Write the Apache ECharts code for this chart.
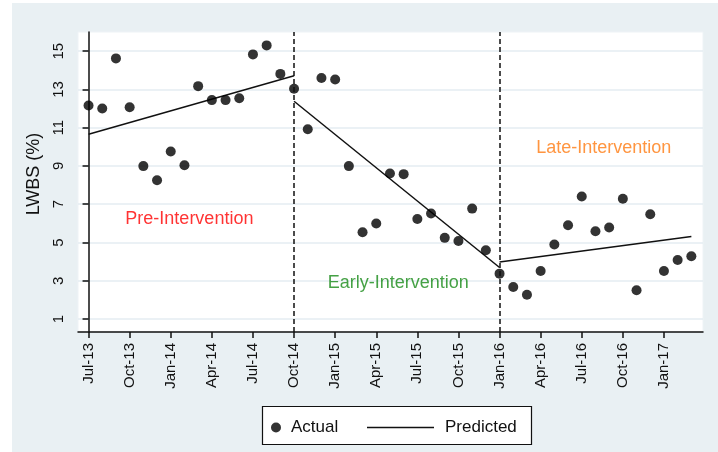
<!DOCTYPE html>
<html>
<head>
<meta charset="utf-8">
<script src="https://cdn.jsdelivr.net/npm/echarts@6/dist/echarts.min.js"></script>
<style>html,body{margin:0;padding:0;background:#fff}#c{width:718px;height:452px}</style>
</head>
<body>
<div id="c"></div>
<script>
const months = ['Jul-13','Aug-13','Sep-13','Oct-13','Nov-13','Dec-13','Jan-14','Feb-14','Mar-14','Apr-14','May-14','Jun-14','Jul-14','Aug-14','Sep-14','Oct-14','Nov-14','Dec-14','Jan-15','Feb-15','Mar-15','Apr-15','May-15','Jun-15','Jul-15','Aug-15','Sep-15','Oct-15','Nov-15','Dec-15','Jan-16','Feb-16','Mar-16','Apr-16','May-16','Jun-16','Jul-16','Aug-16','Sep-16','Oct-16','Nov-16','Dec-16','Jan-17','Feb-17','Mar-17'];
const actual = [12.16,12.0,14.62,12.07,8.99,8.25,9.75,9.04,13.17,12.44,12.44,12.54,14.83,15.3,13.81,13.03,10.92,13.6,13.52,8.99,5.53,5.99,8.6,8.57,6.23,6.51,5.24,5.08,6.77,4.59,3.37,2.67,2.27,3.51,4.89,5.9,7.4,5.59,5.78,7.28,2.5,6.47,3.51,4.08,4.28];
const xTickLabels = ['Jul-13','Oct-13','Jan-14','Apr-14','Jul-14','Oct-14','Jan-15','Apr-15','Jul-15','Oct-15','Jan-16','Apr-16','Jul-16','Oct-16','Jan-17'];
const yTickValues = [1,3,5,7,9,11,13,15];
const predPreMonths = ['Jul-13','Oct-14'];
const predPre = [10.66,13.71];
const predEarlyMonths = ['Oct-14','Jan-16'];
const predEarly = [12.38,3.69];
const predLateMonths = ['Jan-16','Mar-17'];
const predLate = [3.98,5.31];
const breakMonths = ['Oct-14','Jan-16'];
const phaseNames = ['Pre-Intervention','Early-Intervention','Late-Intervention'];
const phaseX = [7.36,22.6,37.6];
const phaseY = [6.21,2.87,9.91];
const phaseColors = ['#ff0000','#178a17','#ff7a10'];

const idx = m => months.indexOf(m);
const seg = (ms, vs) => ms.map((m,i)=>[idx(m), vs[i]]);
const FONT = '"Liberation Sans", Arial, sans-serif';

const chart = echarts.init(document.getElementById('c'), null, {renderer:'canvas'});
const lineStyle = {color:'#111', width:1.5};
const option = {
  animation:false,
  textStyle:{fontFamily:FONT},
  graphic:[
    {type:'rect', z:-10, shape:{x:12,y:3,width:706,height:449}, style:{fill:'#e9f0f3'}},
    {type:'rect', z:100, shape:{x:262.5,y:406.5,width:269,height:38}, style:{fill:'#fff', stroke:'#111', lineWidth:1.2}}
  ],
  grid:{left:78,right:15,top:32,bottom:120,show:true,backgroundColor:'#fff',borderColor:'#eef3f6',borderWidth:1},
  xAxis:{
    type:'value', min:-0.77, max:44.85,
    axisLine:{show:true,onZero:false,lineStyle:{color:'#111',width:1.5}},
    axisTick:{show:true,length:6,lineStyle:{color:'#111',width:1.5},customValues:xTickLabels.map(idx)},
    axisLabel:{show:true,rotate:90,margin:11,fontSize:15,color:'#111',fontFamily:FONT,
      customValues:xTickLabels.map(idx), formatter:v=>months[Math.round(v)]},
    splitLine:{show:false}
  },
  yAxis:{
    type:'value', min:0.32, max:16,
    name:'LWBS (%)', nameLocation:'middle', nameGap:34, nameRotate:90,
    nameTextStyle:{fontSize:18,color:'#111',fontFamily:FONT,padding:[0,0,0,16]},
    axisLine:{show:true,lineStyle:{color:'#111',width:1.5}},
    axisTick:{show:true,length:6,lineStyle:{color:'#111',width:1.5},customValues:yTickValues},
    axisLabel:{show:true,rotate:90,margin:12,fontSize:15,color:'#111',fontFamily:FONT,customValues:yTickValues},
    splitLine:{show:true,lineStyle:{color:'#e4edf2',width:1.5}}
  },
  legend:[
    {data:['Actual'], left:266, top:414, icon:'circle', itemWidth:10, itemHeight:10, itemGap:0, z:110,
     textStyle:{fontSize:17,color:'#111',fontFamily:FONT,padding:[0,0,0,5]}},
    {data:['Predicted'], left:362, top:414, icon:'rect', itemWidth:67, itemHeight:1.5, z:110,
     textStyle:{fontSize:17,color:'#111',fontFamily:FONT,padding:[0,0,0,6]}}
  ],
  series:[
    {name:'Predicted', type:'line', data:seg(predPreMonths,predPre), symbol:'none', lineStyle, itemStyle:{color:'#111'}, z:3},
    {name:'Predicted', type:'line', data:seg(predEarlyMonths,predEarly), symbol:'none', lineStyle, itemStyle:{color:'#111'}, z:3},
    {name:'Predicted', type:'line', data:seg(predLateMonths,predLate), symbol:'none', lineStyle, itemStyle:{color:'#111'}, z:3},
    {name:'Actual', type:'scatter', symbol:'circle', symbolSize:10, itemStyle:{color:'#000'}, z:4,
     data:actual.map((v,i)=>[i,v]),
     markLine:{silent:true, symbol:'none', label:{show:false},
       lineStyle:{color:'#111',type:[5,3],width:1.5},
       data:breakMonths.map(m=>({xAxis:idx(m)}))}
    },
    {name:'phase', type:'scatter', symbolSize:0, z:5,
     data:phaseNames.map((n,i)=>({value:[phaseX[i],phaseY[i]], label:{show:true,position:'inside',formatter:n,color:phaseColors[i],fontSize:18,fontFamily:FONT}}))}
  ]
};
chart.setOption(option);
</script>
</body>
</html>
